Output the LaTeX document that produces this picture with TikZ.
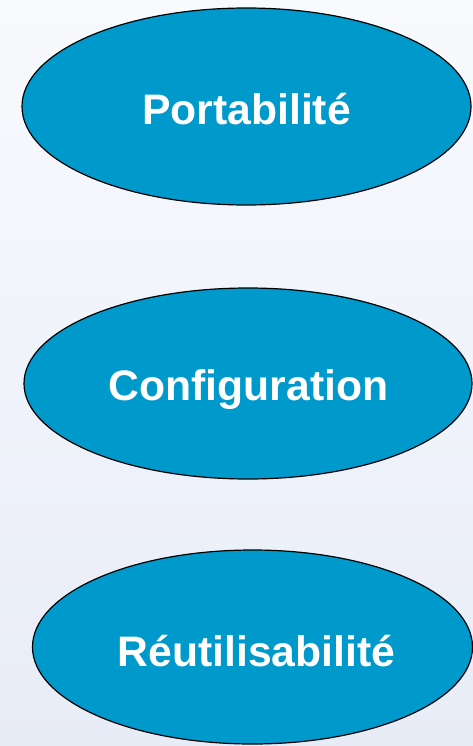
\documentclass[tikz,border=0pt]{standalone}
\usepackage{fontspec}
\setmainfont{Liberation Sans}
\usetikzlibrary{shapes.geometric}
\definecolor{bgtop}{HTML}{F8FAFD}
\definecolor{bgbot}{HTML}{E8ECF7}
\definecolor{ellfill}{HTML}{0099CC}
\tikzset{
  ell/.style={ellipse, draw=black, line width=0.9pt, fill=ellfill, inner sep=0pt},
  lbl/.style={text=white, font=\fontsize{32}{36}\selectfont\bfseries, inner sep=0pt, anchor=base}
}
\begin{document}
\begin{tikzpicture}[x=0.75pt, y=-0.75pt]
\shade[top color=bgtop, bottom color=bgbot] (0,0) rectangle (473,746);
\useasboundingbox (0,0) rectangle (473,746);
\node[ell, minimum width=449*0.75pt, minimum height=197*0.75pt] (e1) at (246.5,106.5) {};
\node[lbl] (t1) at (246.5,124) {Portabilité};
\node[ell, minimum width=448*0.75pt, minimum height=191*0.75pt] (e2) at (248,383.5) {};
\node[lbl] (t2) at (248.5,400) {Configuration};
\node[ell, minimum width=440*0.75pt, minimum height=194*0.75pt] (e3) at (252.5,647) {};
\node[lbl] (t3) at (256.5,666) {Réutilisabilité};
\end{tikzpicture}
\end{document}
